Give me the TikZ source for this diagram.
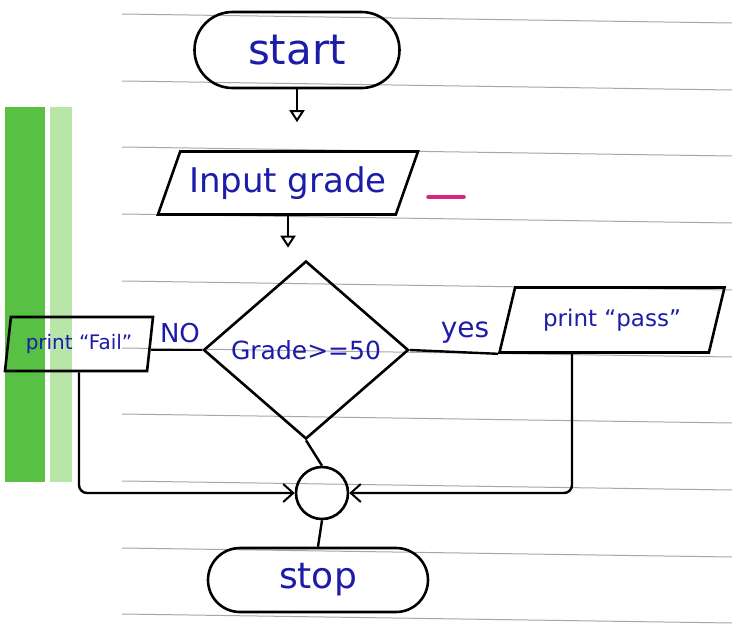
\documentclass[tikz,border=0pt]{standalone}
\usepackage{fontspec}
\setsansfont{DejaVu Sans}
\usetikzlibrary{shapes.geometric,shapes.misc,arrows.meta}
\definecolor{ink}{HTML}{1C1CA8}
\definecolor{rulecol}{HTML}{ADA3AD}
\definecolor{gdark}{HTML}{58C144}
\definecolor{glight}{HTML}{B8E5A8}
\definecolor{pinkmark}{HTML}{D8267C}
\begin{document}
\begin{tikzpicture}[x=1pt,y=-1pt,
  shapeline/.style={draw=black, line width=2.6pt},
  hand/.style={text=ink},
  terminal/.style={shapeline, rounded rectangle, inner sep=0pt, hand},
  iobox/.style={shapeline, trapezium, trapezium stretches body, inner sep=0pt, hand},
  decisionbox/.style={shapeline, diamond, aspect=1.15, inner sep=0pt, hand},
  junction/.style={shapeline, circle, inner sep=0pt, minimum size=52pt},
  flow/.style={draw=black, line width=2.4pt},
  openarrow/.style={-{Triangle[open,length=12pt,width=15pt,line width=2pt]}},
  barb/.style={-{Straight Barb[length=10pt,width=18pt,line width=2pt]}},
  lbl/.style={hand}
]
\useasboundingbox (0,0) rectangle (732,630);
\fill[white] (0,0) rectangle (732,630);
% green margin strips
\fill[gdark] (5,107) rectangle (45,482);
\fill[glight] (50,107) rectangle (72,482);
% ruled paper lines
\foreach \yy in {14,81,147,214,281,348,414,481,548,614}
  \draw[rulecol, line width=1pt] (122,\yy) -- (732,\yy+9);

% nodes
\node[terminal, minimum width=205pt, minimum height=76pt,
      font=\sffamily\fontsize{42}{42}\selectfont] (start) at (297,50) {start};
\node[iobox, trapezium left angle=56, trapezium right angle=124,
      minimum width=260pt, minimum height=63pt,
      font=\sffamily\fontsize{34}{34}\selectfont] (input) at (288,183) {Input grade};
\node[decisionbox, minimum width=205pt, minimum height=178pt,
      font=\sffamily\fontsize{25}{25}\selectfont] (dec) at (306,350) {Grade>=50};
\node[lbl, font=\sffamily\fontsize{26}{26}\selectfont] (no) at (180,333) {NO};
\node[iobox, trapezium left angle=73, trapezium right angle=107,
      minimum width=148pt, minimum height=54pt,
      font=\sffamily\fontsize{20}{20}\selectfont] (fail) at (79,344) {print “Fail”};
\node[lbl, font=\sffamily\fontsize{28}{28}\selectfont] (yes) at (465,333) {yes};
\node[iobox, trapezium left angle=55, trapezium right angle=125,
      minimum width=225pt, minimum height=65pt,
      font=\sffamily\fontsize{23}{23}\selectfont] (pass) at (612,320) {print “pass”};
\node[junction] (conn) at (322,493) {};
\node[terminal, minimum width=220pt, minimum height=64pt,
      font=\sffamily\fontsize{36}{36}\selectfont] (stop) at (318,580) {stop};
\coordinate (pj) at (572,493);

% connectors
\draw[flow, openarrow, shorten >=28pt] (start.south) -- (start.south |- input.north);
\draw[flow, openarrow, shorten >=12pt] (input.south) -- (input.south |- dec.north);
\draw[flow] (dec.west) -- (dec.west -| fail.east);
\draw[flow] (dec.east) -- (pass.bottom left corner);
\draw[flow, barb, rounded corners=8pt] (pj |- pass.south) -- (pj) -- (conn.east);
\draw[flow, barb, rounded corners=8pt] (fail.south) |- (conn.west);
\draw[flow] (dec.south) -- (conn.north);
\draw[flow] (conn.south) -- (stop.north);

% pink pen mark
\draw[pinkmark, line width=3.5pt, line cap=round] (428,197) -- (464,197);
\end{tikzpicture}
\end{document}
